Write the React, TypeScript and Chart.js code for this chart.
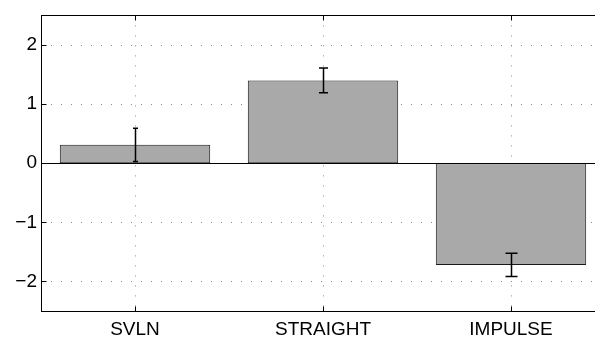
import React, { useEffect, useRef } from "react";
import { Chart, registerables } from "chart.js";

Chart.register(...registerables);

const categories = ["SVLN", "STRAIGHT", "IMPULSE"];
const values = [0.31, 1.4, -1.72];
const errors = [0.28, 0.21, 0.195];
const capWidths = [5, 9, 12];
const yTicks = [-2, -1, 0, 1, 2];

const FONT = "'Liberation Sans', Arial, Helvetica, sans-serif";

const framePlugin = {
  id: "frame",
  beforeDatasetsDraw(chart: any) {
    const { ctx, chartArea: a, scales } = chart;
    const x = scales.x;
    const y = scales.y;
    ctx.save();
    ctx.strokeStyle = "#8a8a8a";
    ctx.lineWidth = 1;
    ctx.setLineDash([1, 9]);
    yTicks.forEach((t) => {
      if (t === 0) return;
      const py = Math.round(y.getPixelForValue(t)) + 0.5;
      ctx.beginPath();
      ctx.moveTo(a.left, py);
      ctx.lineTo(a.right, py);
      ctx.stroke();
    });
    categories.forEach((_, i) => {
      const px = Math.round(x.getPixelForValue(i)) + 0.5;
      ctx.beginPath();
      ctx.moveTo(px, a.top);
      ctx.lineTo(px, a.bottom);
      ctx.stroke();
    });
    ctx.restore();
  },
  afterDatasetsDraw(chart: any) {
    const { ctx, chartArea: a, scales } = chart;
    const x = scales.x;
    const y = scales.y;
    ctx.save();
    ctx.strokeStyle = "#000";
    ctx.lineWidth = 1;
    const zy = Math.round(y.getPixelForValue(0)) + 0.5;
    ctx.beginPath();
    ctx.moveTo(a.left, zy);
    ctx.lineTo(a.right, zy);
    ctx.stroke();
    const top = Math.round(a.top) + 0.5;
    const bottom = Math.round(a.bottom) + 0.5;
    const left = Math.round(a.left) + 0.5;
    ctx.beginPath();
    ctx.moveTo(a.left, top);
    ctx.lineTo(a.right, top);
    ctx.moveTo(left, a.top);
    ctx.lineTo(left, a.bottom);
    ctx.moveTo(a.left, bottom);
    ctx.lineTo(a.right, bottom);
    ctx.stroke();
    const tl = 5;
    yTicks.forEach((t) => {
      const py = Math.round(y.getPixelForValue(t)) + 0.5;
      ctx.beginPath();
      ctx.moveTo(left, py);
      ctx.lineTo(left + tl, py);
      ctx.stroke();
    });
    categories.forEach((_, i) => {
      const px = Math.round(x.getPixelForValue(i)) + 0.5;
      ctx.beginPath();
      ctx.moveTo(px, top);
      ctx.lineTo(px, top + tl);
      ctx.moveTo(px, bottom);
      ctx.lineTo(px, bottom - tl);
      ctx.stroke();
    });
    ctx.lineWidth = 1.5;
    values.forEach((v, i) => {
      const px = Math.round(x.getPixelForValue(i)) + 0.5;
      const hi = y.getPixelForValue(v + errors[i]);
      const lo = y.getPixelForValue(v - errors[i]);
      const hw = capWidths[i] / 2;
      ctx.beginPath();
      ctx.moveTo(px, hi);
      ctx.lineTo(px, lo);
      ctx.moveTo(px - hw, hi);
      ctx.lineTo(px + hw, hi);
      ctx.moveTo(px - hw, lo);
      ctx.lineTo(px + hw, lo);
      ctx.stroke();
    });
    ctx.restore();
  },
};

export default function App() {
  const ref = useRef<HTMLCanvasElement | null>(null);
  useEffect(() => {
    if (!ref.current) return;
    const chart = new Chart(ref.current, {
      type: "bar",
      data: {
        labels: categories,
        datasets: [
          {
            data: values,
            backgroundColor: "#a9a9a9",
            borderColor: "#1a1a1a",
            borderWidth: 1,
            borderSkipped: false,
            barPercentage: 0.8,
            categoryPercentage: 1,
          },
        ],
      },
      options: {
        animation: false,
        responsive: false,
        maintainAspectRatio: false,
        devicePixelRatio: 1,
        layout: { padding: { top: 14, right: 15, left: 0, bottom: 0 } },
        plugins: { legend: { display: false }, tooltip: { enabled: false } },
        scales: {
          x: {
            grid: { display: false, drawTicks: false },
            border: { display: false },
            ticks: {
              color: "#000",
              font: { family: FONT, size: 19 },
              padding: 7,
              maxRotation: 0,
            },
            afterFit: (s: any) => {
              s.height = 27;
            },
          },
          y: {
            min: -2.5,
            max: 2.5,
            afterBuildTicks: (s: any) => {
              s.ticks = yTicks.map((v) => ({ value: v }));
            },
            grid: { display: false, drawTicks: false },
            border: { display: false },
            ticks: {
              color: "#000",
              font: { family: FONT, size: 19 },
              padding: 4,
              callback: (v: any) =>
                Number(v) < 0 ? "\u2212" + Math.abs(Number(v)) : String(v),
            },
            afterFit: (s: any) => {
              s.width = 41;
            },
          },
        },
      },
      plugins: [framePlugin],
    });
    return () => chart.destroy();
  }, []);
  return (
    <div
      style={{
        position: "fixed",
        left: 0,
        top: 0,
        width: 595,
        height: 338,
        overflow: "hidden",
        background: "#fff",
      }}
    >
      <canvas ref={ref} width={620} height={338} style={{ display: "block" }} />
    </div>
  );
}
